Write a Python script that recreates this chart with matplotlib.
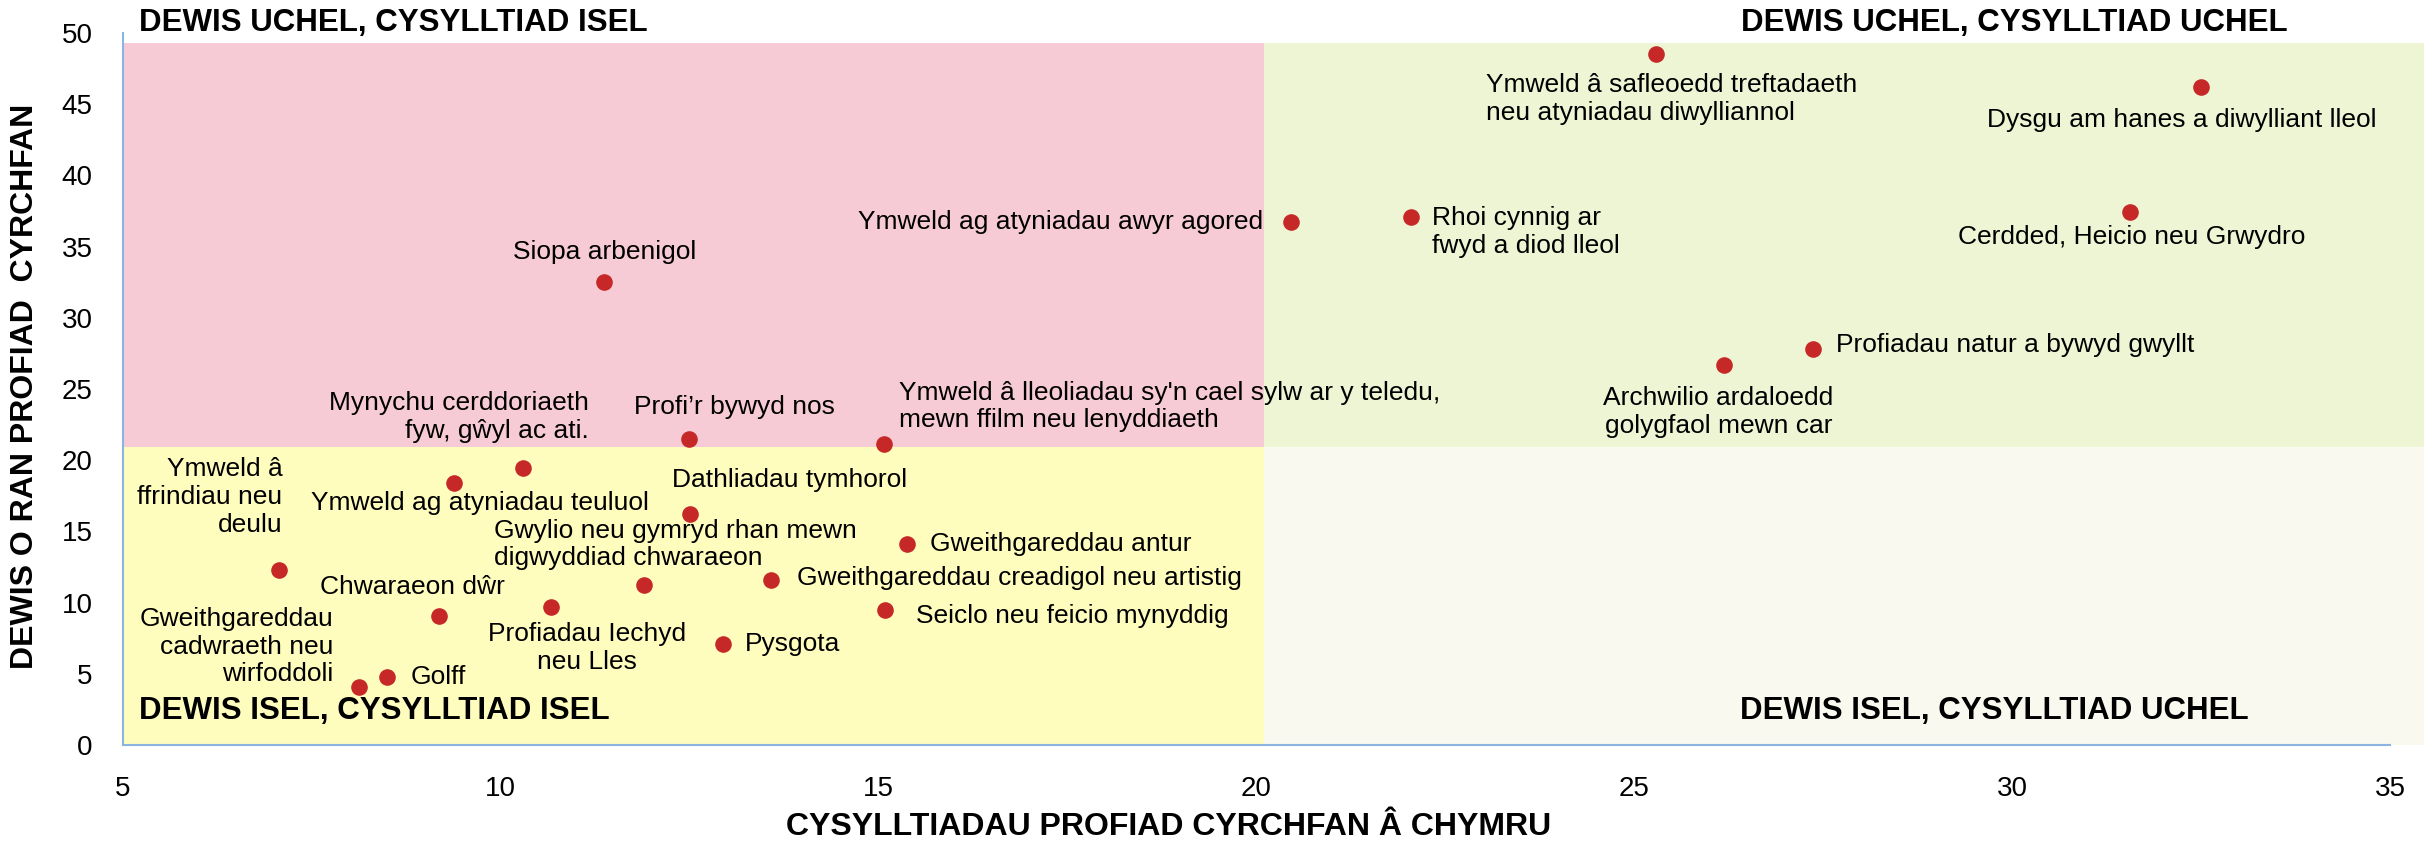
import matplotlib.pyplot as plt
from matplotlib.patches import Rectangle

plt.rcParams['font.family'] = ['Liberation Sans', 'DejaVu Sans']

# data: connection to Wales (x) vs importance in destination choice (y)
activities = [
    "Siopa arbenigol",
    "Mynychu cerddoriaeth\nfyw, gŵyl ac ati.",
    "Profi’r bywyd nos",
    "Ymweld ag atyniadau awyr agored",
    "Rhoi cynnig ar\nfwyd a diod lleol",
    "Ymweld â safleoedd treftadaeth\nneu atyniadau diwylliannol",
    "Ymweld â lleoliadau sy'n cael sylw ar y teledu,\nmewn ffilm neu lenyddiaeth",
    "Dysgu am hanes a diwylliant lleol",
    "Cerdded, Heicio neu Grwydro",
    "Profiadau natur a bywyd gwyllt",
    "Archwilio ardaloedd\ngolygfaol mewn car",
    "Ymweld â\nffrindiau neu\ndeulu",
    "Ymweld ag atyniadau teuluol",
    "Dathliadau tymhorol",
    "Gwylio neu gymryd rhan mewn\ndigwyddiad chwaraeon",
    "Chwaraeon dŵr",
    "Gweithgareddau\ncadwraeth neu\nwirfoddoli",
    "Golff",
    "Profiadau Iechyd\nneu Lles",
    "Pysgota",
    "Gweithgareddau creadigol neu artistig",
    "Gweithgareddau antur",
    "Seiclo neu feicio mynyddig",
]
connection = [11.37, 10.30, 12.49, 20.45, 22.05, 25.29, 15.07, 32.50, 31.56,
              27.37, 26.19, 7.06, 9.38, 12.51, 11.89, 9.18, 8.12, 8.50, 10.66,
              12.94, 13.58, 15.37, 15.09]
choice = [32.5, 19.45, 21.5, 36.7, 37.1, 48.5, 21.1, 46.2, 37.4,
          27.8, 26.7, 12.3, 18.4, 16.2, 11.2, 9.06, 4.1, 4.8, 9.7,
          7.1, 11.6, 14.1, 9.5]

quadrant_titles = ["DEWIS UCHEL, CYSYLLTIAD ISEL", "DEWIS UCHEL, CYSYLLTIAD UCHEL",
                   "DEWIS ISEL, CYSYLLTIAD ISEL", "DEWIS ISEL, CYSYLLTIAD UCHEL"]

# label layout: offset in pixels from the point, horizontal alignment
label_layout = [
    (0, 30, 'center'), (65, 51, 'right'), (45, 32, 'center'), (-27, 0, 'right'),
    (21, -15, 'left'), (-170, -45, 'left'), (15, 38, 'left'), (-19, -33, 'center'),
    (2, -25, 'center'), (23, 4, 'left'), (-6, -47, 'center'), (4, 73, 'right'),
    (26, -20, 'center'), (-18, 34, 'left'), (-150, 41, 'left'), (-26, 29, 'center'),
    (-25, 40, 'right'), (23, 0, 'left'), (36, -41, 'center'), (22, 0, 'left'),
    (26, 2, 'left'), (23, 0, 'left'), (31, -6, 'left'),
]

fig = plt.figure(figsize=(24.25, 8.43), dpi=100)
ax = fig.add_axes([0.0507, 0.1163, 0.9349, 0.8446])

xmid, ymid, ytop, xright = 20.1, 20.9, 49.3, 35.45
quads = [
    (5, ymid, xmid - 5, ytop - ymid, '#F7CBD6'),
    (xmid, ymid, xright - xmid, ytop - ymid, '#EEF5D4'),
    (5, 0, xmid - 5, ymid, '#FFFDBE'),
    (xmid, 0, xright - xmid, ymid, '#F9F9F0'),
]
for x0, y0, w, h, c in quads:
    ax.add_patch(Rectangle((x0, y0), w, h, facecolor=c, edgecolor='none',
                           zorder=0, clip_on=False))

ax.scatter(connection, choice, s=120, color='#C62828', zorder=3, clip_on=False)

for name, x, y, (dx, dy, ha) in zip(activities, connection, choice, label_layout):
    ax.annotate(name, (x, y), xytext=(dx, dy), textcoords='offset pixels',
                ha=ha, va='center', multialignment=ha, fontsize=19, zorder=4)

title_pos = [(5.21, 50.7, 'left'), (30.03, 50.7, 'center'),
             (5.21, 2.4, 'left'), (29.76, 2.4, 'center')]
for t, (tx, ty, ha) in zip(quadrant_titles, title_pos):
    ax.text(tx, ty, t, ha=ha, va='center', fontsize=22.5, fontweight='bold',
            clip_on=False, zorder=4)

ax.set_xlim(5, 35)
ax.set_ylim(0, 50)
ax.set_xticks(range(5, 36, 5))
ax.set_yticks(range(0, 51, 5))
ax.tick_params(length=0, labelsize=20)
ax.tick_params(axis='x', pad=22)
ax.tick_params(axis='y', pad=22)

for s in ['top', 'right']:
    ax.spines[s].set_visible(False)
for s in ['left', 'bottom']:
    ax.spines[s].set_color('#8DB3E2')
    ax.spines[s].set_linewidth(1.5)
    ax.spines[s].set_zorder(5)

ax.set_xlabel("CYSYLLTIADAU PROFIAD CYRCHFAN Â CHYMRU", fontsize=23, fontweight='bold')
ax.xaxis.set_label_coords(0.461, -0.115)
ax.xaxis.label.set_va('center')
ax.set_ylabel("DEWIS O RAN PROFIAD  CYRCHFAN", fontsize=23, fontweight='bold')
ax.yaxis.set_label_coords(-0.043, 0.503)
ax.yaxis.label.set_va('center')

fig.savefig('out.png', dpi=100)
